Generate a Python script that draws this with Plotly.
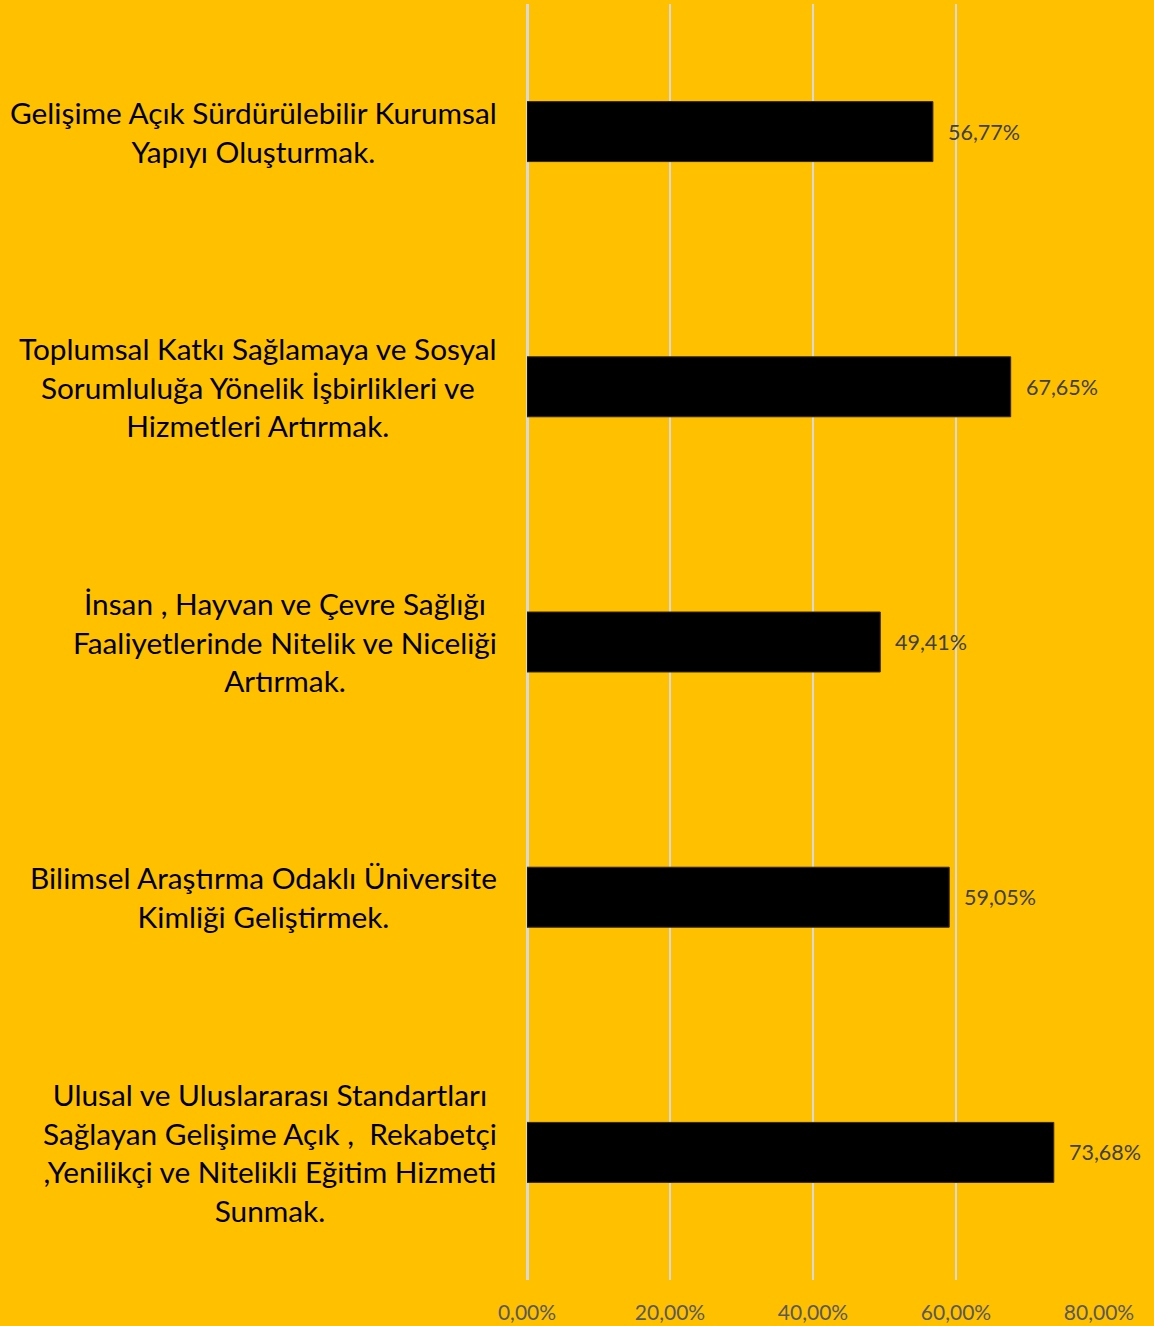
import plotly.graph_objects as go

categories = [
    "Gelişime Açık Sürdürülebilir Kurumsal<br>Yapıyı Oluşturmak.",
    "Toplumsal Katkı Sağlamaya ve Sosyal<br>Sorumluluğa Yönelik İşbirlikleri ve<br>Hizmetleri Artırmak.",
    "İnsan , Hayvan ve Çevre Sağlığı<br>Faaliyetlerinde Nitelik ve Niceliği<br>Artırmak.",
    "Bilimsel Araştırma Odaklı Üniversite<br>Kimliği Geliştirmek.",
    "Ulusal ve Uluslararası Standartları<br>Sağlayan Gelişime Açık ,  Rekabetçi<br>,Yenilikçi ve Nitelikli Eğitim Hizmeti<br>Sunmak.",
]
values = [0.5677, 0.6765, 0.4941, 0.5905, 0.7368]
tick_values = [0, 0.2, 0.4, 0.6, 0.8]

BG = "#FFC000"
FONT = "Lato"

fig = go.Figure()
fig.add_trace(go.Bar(
    y=list(range(len(categories))),
    x=values,
    orientation="h",
    marker=dict(color="#000000", line=dict(color="#3a2a00", width=1)),
    width=0.235,
    hoverinfo="skip",
))

annotations = []
for i, (c, v) in enumerate(zip(categories, values)):
    annotations.append(dict(
        x=v, y=i, xref="x", yref="y", text=f"{v*100:.2f}%".replace(".", ","),
        showarrow=False, xanchor="left", xshift=13,
        font=dict(family=FONT, size=21.5, color="#404040"),
    ))
    annotations.append(dict(
        x=-0.049, y=i, xref="paper", yref="y", text=c,
        showarrow=False, xanchor="right", align="center",
        font=dict(family=FONT, size=29.8, color="#000000"),
    ))

fig.update_layout(
    width=1154, height=1326,
    margin=dict(l=527, r=55, t=4, b=46, autoexpand=False),
    paper_bgcolor=BG, plot_bgcolor=BG,
    separators=",.",
    showlegend=False,
    annotations=annotations,
    xaxis=dict(
        range=[0, 0.8], tickvals=tick_values, tickformat=".2%",
        showgrid=True, gridcolor="#D9D9D9", gridwidth=2,
        zeroline=True, zerolinecolor="#D9D9D9", zerolinewidth=3,
        showline=False, ticks="",
        tickfont=dict(family=FONT, size=21, color="#595959"),
        ticklabelstandoff=18,
        fixedrange=True,
    ),
    yaxis=dict(
        range=[len(categories) - 0.5, -0.5],
        showticklabels=False, showgrid=False, zeroline=False, ticks="",
        fixedrange=True,
    ),
)

fig.write_html(
    "out.html",
    config={"displayModeBar": False},
    post_script="document.body.style.margin='0';document.body.style.overflow='hidden';",
)
